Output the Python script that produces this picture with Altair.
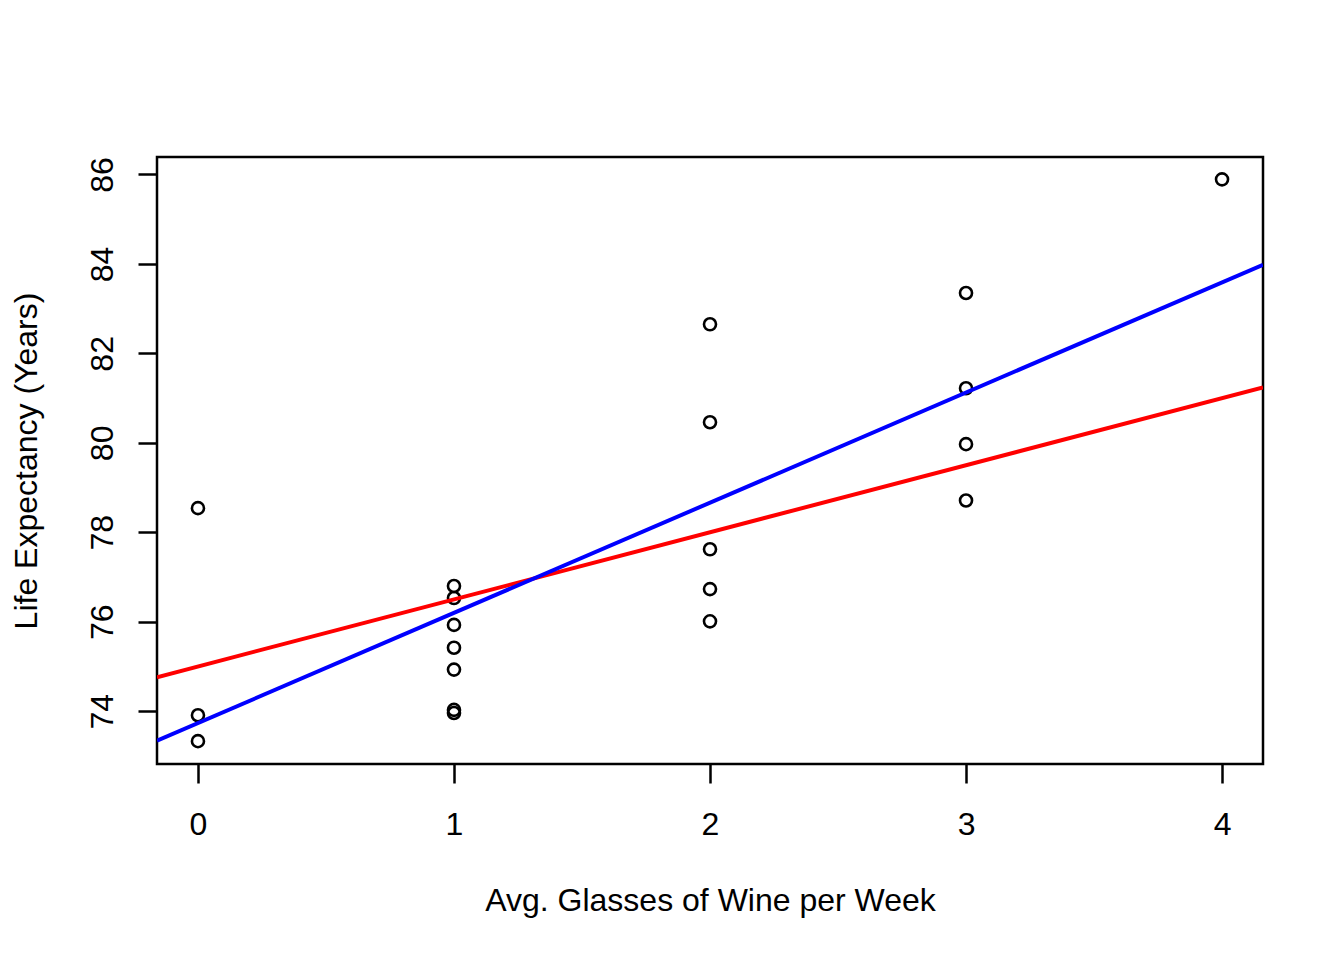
import altair as alt
import pandas as pd

# ---- data ----
wine = [0, 0, 0,
        1, 1, 1, 1, 1, 1, 1,
        2, 2, 2, 2, 2,
        3, 3, 3, 3,
        4]
life = [78.54, 73.91, 73.33,
        76.80, 76.53, 75.93, 75.42, 74.93, 74.03, 73.96,
        82.65, 80.46, 77.62, 76.73, 76.01,
        83.35, 81.22, 79.97, 78.71,
        85.89]

x_ticks = [0, 1, 2, 3, 4]
y_ticks = [74, 76, 78, 80, 82, 84, 86]
x_domain = [-0.16, 4.16]
y_domain = [72.82, 86.39]

true_intercept = 75.0
true_slope = 1.5

pts = pd.DataFrame({"x": wine, "y": life})
edge = pd.DataFrame({"x": x_domain})

FONT = "Liberation Sans"

xs = alt.Scale(domain=x_domain, nice=False, zero=False)
ys = alt.Scale(domain=y_domain, nice=False, zero=False)

x_axis = alt.Axis(values=x_ticks, format="d", title="Avg. Glasses of Wine per Week",
                  tickSize=19, labelPadding=26, labelBaseline="top",
                  labelFlush=False, labelOverlap=False,
                  titleX=553, titleY=146, titleBaseline="alphabetic",
                  titleAlign="center")
y_axis = alt.Axis(values=y_ticks, format="d", title="Life Expectancy (Years)",
                  tickSize=19, labelPadding=26, labelAngle=270,
                  labelAlign="center", labelBaseline="alphabetic",
                  labelFlush=False, labelOverlap=False,
                  titleX=-121, titleY=303.5, titleAngle=270,
                  titleBaseline="alphabetic", titleAlign="center")

points = alt.Chart(pts).mark_point(
    shape="circle", filled=False, stroke="black", strokeWidth=2.6, size=145,
    opacity=1
).encode(
    x=alt.X("x:Q", scale=xs, axis=x_axis),
    y=alt.Y("y:Q", scale=ys, axis=y_axis),
)

red = alt.Chart(edge).transform_calculate(
    y=f"{true_intercept} + {true_slope} * datum.x"
).mark_line(color="#ff0000", strokeWidth=4, clip=True).encode(
    x=alt.X("x:Q", scale=xs),
    y=alt.Y("y:Q", scale=ys),
)

blue = alt.Chart(pts).transform_regression(
    "x", "y", extent=x_domain
).mark_line(color="#0000ff", strokeWidth=4, clip=True).encode(
    x=alt.X("x:Q", scale=xs),
    y=alt.Y("y:Q", scale=ys),
)

chart = alt.layer(points, red, blue).properties(
    width=1106, height=607,
    padding={"left": 149, "top": 149, "right": 60, "bottom": 180},
    autosize=alt.AutoSizeParams(type="none"),
    background="white",
).configure_view(
    stroke="black", strokeWidth=2.5
).configure_axis(
    grid=False, domain=False,
    tickColor="black", tickWidth=2.5,
    labelFont=FONT, labelFontSize=32, labelColor="black",
    titleFont=FONT, titleFontSize=32, titleColor="black",
    titleFontWeight="normal",
)

chart.save("out.html", embed_options={"renderer": "svg", "actions": False})
